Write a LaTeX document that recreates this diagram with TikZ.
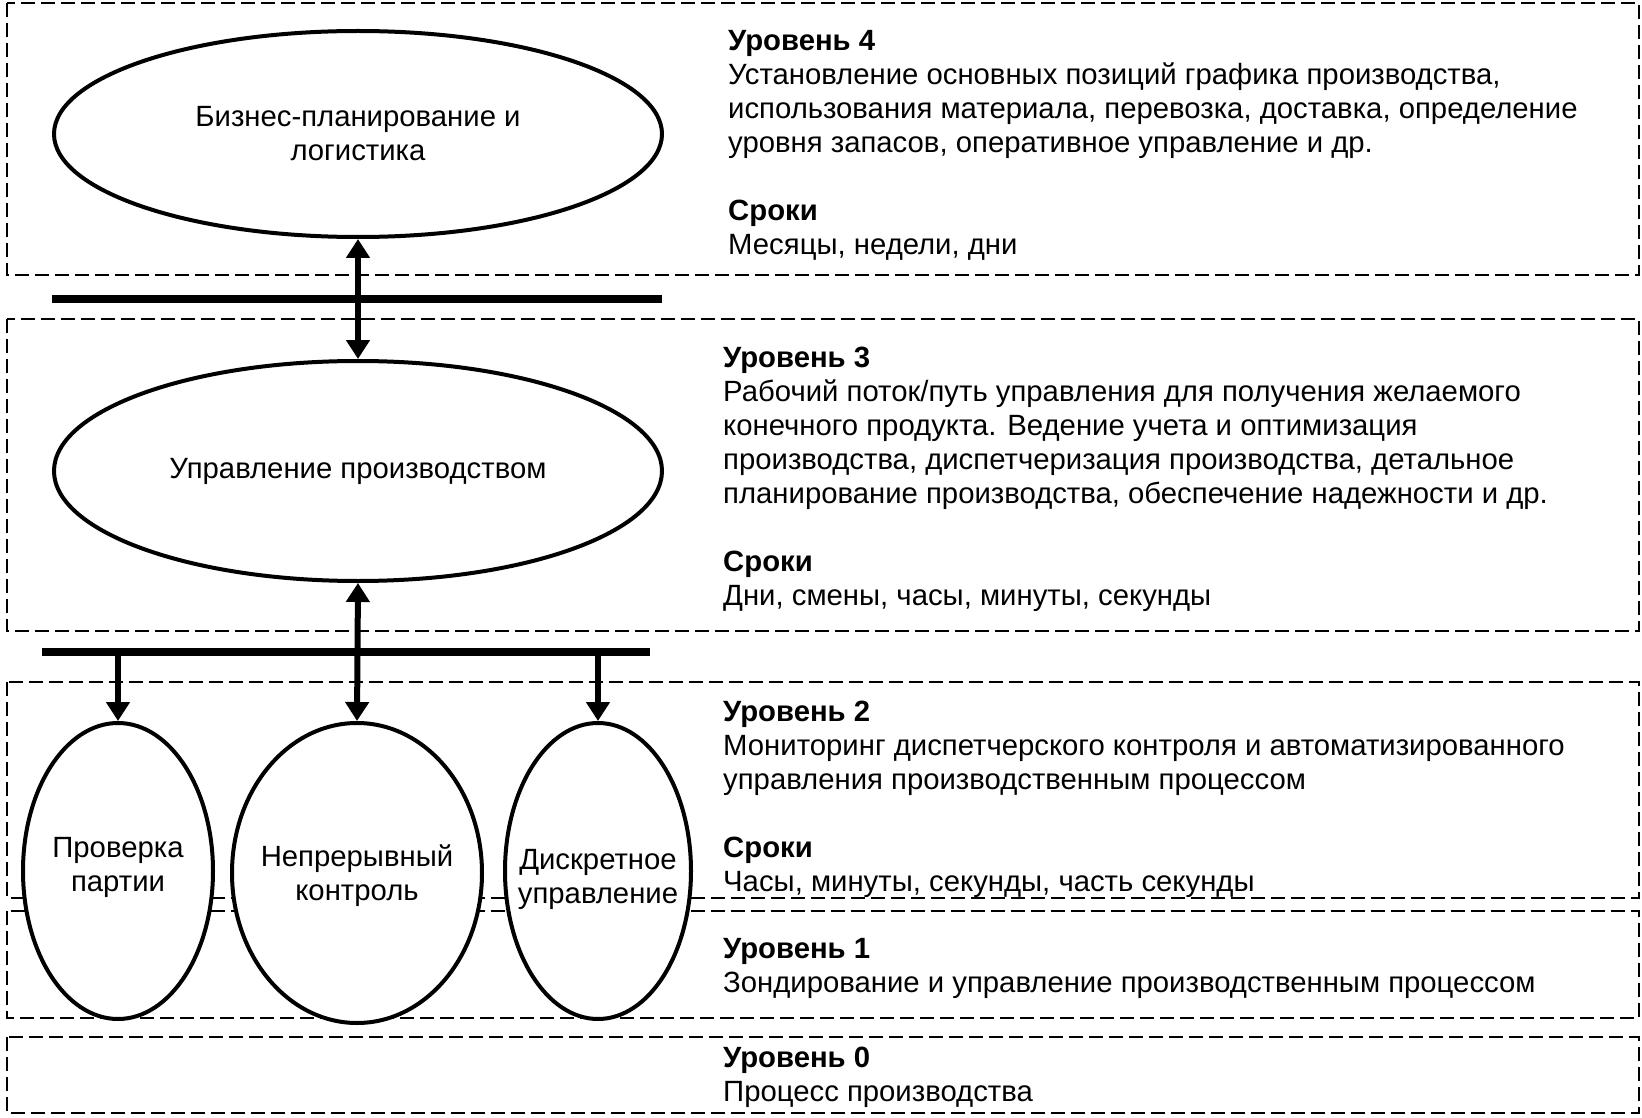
\documentclass[tikz,border=0pt]{standalone}
\usepackage{fontspec}
\setmainfont{Liberation Sans}
\usetikzlibrary{arrows.meta,shapes.geometric}

\begin{document}
\begin{tikzpicture}[x=1pt,y=-1pt,font=\fontsize{29.3}{34}\selectfont,
    levelbox/.style={draw,line width=2pt,dash pattern=on 14pt off 6pt},
    bus/.style={line width=7.5pt},
    unit/.style={ellipse,draw,fill=white,line width=4pt,inner sep=0pt,align=center},
    link/.style={line width=6pt,{Triangle[length=19pt,width=23pt]}-{Triangle[length=19pt,width=23pt]}},
    feed/.style={line width=6pt,-{Triangle[length=19pt,width=23pt]}},
    leveltext/.style={anchor=north west,inner sep=0pt,align=left}]
    \useasboundingbox (0,0) rectangle (1642,1118);
    % level frames
    \draw[levelbox] (7,3) rectangle (1639,275);
    \draw[levelbox] (7,319) rectangle (1639,631);
    \draw[levelbox] (7,682) rectangle (1639,898);
    \draw[levelbox] (7,911) rectangle (1639,1018);
    \draw[levelbox] (7,1037) rectangle (1639,1113);
    % buses
    \coordinate (bus1w) at (52,299);
    \coordinate (bus1e) at (662,299);
    \coordinate (bus2w) at (42,652);
    \coordinate (bus2e) at (650,652);
    \draw[bus] (bus1w) -- (bus1e);
    \draw[bus] (bus2w) -- (bus2e);
    % units
    \node[unit,minimum width=608,minimum height=206] (biz) at (358,134) {Бизнес-планирование и\\логистика};
    \node[unit,minimum width=608,minimum height=220] (upr) at (358,471) {Управление производством};
    \node[unit,minimum width=190,minimum height=296,
      label={[align=center,yshift=4pt]center:Проверка\\партии}] (prov) at (118,871) {};
    \node[unit,minimum width=250,minimum height=300,
      label={[align=center,yshift=-3pt]center:Непрерывный\\контроль}] (nepr) at (357,873) {};
    \node[unit,minimum width=186,minimum height=296,
      label={[align=center,yshift=-8pt]center:Дискретное\\управление}] (disk) at (598,871) {};
    % connectors
    \draw[link] (upr.north) -- (biz.south);
    \draw[link] (nepr.north) -- (upr.south);
    \coordinate (tap1) at (prov.north |- bus2w);
    \coordinate (tap2) at (disk.north |- bus2w);
    \draw[feed] (tap1) -- (prov.north);
    \draw[feed] (tap2) -- (disk.north);
    % level texts
    \node[leveltext] (lvl4) at (728,27) {\strut\textbf{Уровень 4}\\
      Установление основных позиций графика производства,\\
      использования материала, перевозка, доставка, определение\\
      уровня запасов, оперативное управление и др.\\[34pt]
      \textbf{Сроки}\\
      Месяцы, недели, дни};
    \node[leveltext] (lvl3) at (723,343) {\strut\textbf{Уровень 3}\\
      Рабочий поток/путь управления для получения желаемого\\
      конечного продукта. Ведение учета и оптимизация\\
      производства, диспетчеризация производства, детальное\\
      планирование производства, обеспечение надежности и др.\\[34pt]
      \textbf{Сроки}\\
      Дни, смены, часы, минуты, секунды};
    \node[leveltext] (lvl2) at (723,697) {\strut\textbf{Уровень 2}\\
      Мониторинг диспетчерского контроля и автоматизированного\\
      управления производственным процессом\\[34pt]
      \textbf{Сроки}\\
      Часы, минуты, секунды, часть секунды};
    \node[leveltext] (lvl1) at (723,934) {\strut\textbf{Уровень 1}\\
      Зондирование и управление производственным процессом};
    \node[leveltext] (lvl0) at (723,1043) {\strut\textbf{Уровень 0}\\
      Процесс производства};
\end{tikzpicture}
\end{document}
